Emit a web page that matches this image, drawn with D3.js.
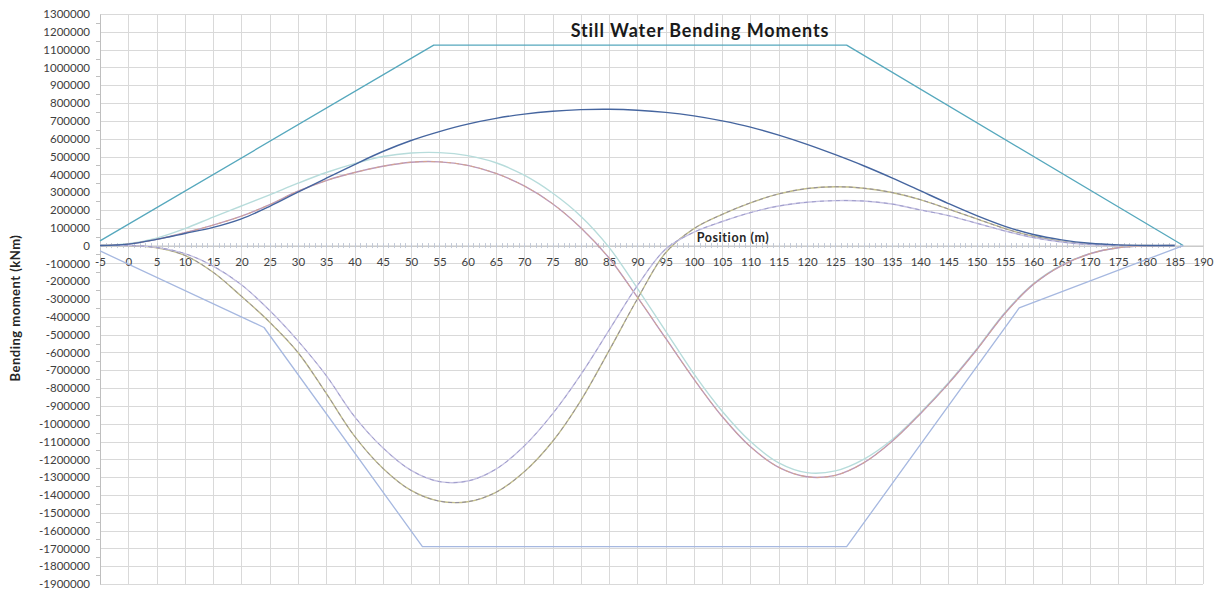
<!DOCTYPE html>
<html>
<head>
<meta charset="utf-8">
<script src="https://cdn.jsdelivr.net/npm/d3@7"></script>
<style>
  html, body { margin: 0; padding: 0; background: #ffffff; }
  svg { display: block; font-family: Lato, "Open Sans", sans-serif; }
</style>
</head>
<body>
<script>
// Stations along the hull (m) for the load-case curves
const positions = [-5, 0, 5, 10, 15, 20, 25, 30, 35, 40, 45, 50, 55, 60, 65, 70, 75, 80, 85, 90,
  95, 100, 105, 110, 115, 120, 125, 130, 135, 140, 145, 150, 155, 160, 165, 170, 175, 180, 185];

// Still water bending moments per load case (kNm)
const caseDeparture = [0, 8000, 35000, 68000, 102000, 150000, 220000, 300000, 378000, 455000, 528000, 590000, 640000, 682000, 714000, 738000, 754000, 763000, 765000, 760000,
  748000, 728000, 700000, 665000, 620000, 568000, 510000, 448000, 380000, 308000, 236000, 168000, 108000, 62000, 32000, 13000, 4000, 500, 0];
const caseBallast = [0, 10000, 42000, 95000, 160000, 222000, 285000, 350000, 410000, 460000, 500000, 520000, 522000, 505000, 465000, 395000, 295000, 165000, -10000, -240000,
  -480000, -720000, -930000, -1100000, -1220000, -1275000, -1265000, -1200000, -1090000, -940000, -770000, -580000, -375000, -215000, -110000, -45000, -12000, -2000, 0];
const caseBallastArrival = [0, 8000, 35000, 72000, 115000, 165000, 230000, 305000, 365000, 410000, 445000, 468000, 470000, 450000, 405000, 335000, 235000, 100000, -70000, -290000,
  -520000, -750000, -960000, -1130000, -1245000, -1298000, -1290000, -1220000, -1100000, -945000, -775000, -585000, -380000, -218000, -112000, -46000, -12000, -2000, 0];
const caseFullLoad = [0, 0, -12000, -55000, -150000, -285000, -430000, -600000, -830000, -1070000, -1250000, -1375000, -1435000, -1438000, -1385000, -1270000, -1100000, -870000, -590000, -300000,
  -40000, 95000, 175000, 240000, 290000, 320000, 330000, 322000, 298000, 258000, 205000, 150000, 95000, 52000, 23000, 8000, 2000, 0, 0];
const caseFullLoadArrival = [0, 0, -10000, -45000, -115000, -220000, -365000, -535000, -730000, -960000, -1135000, -1262000, -1325000, -1322000, -1255000, -1125000, -945000, -725000, -475000, -225000,
  -20000, 75000, 135000, 185000, 222000, 243000, 252000, 250000, 233000, 200000, 168000, 125000, 82000, 45000, 20000, 6000, 1000, 0, 0];

// Permissible still water bending moment envelopes (kNm)
const hoggingLimitX = [-5, 54, 127, 186.5];
const hoggingLimit = [26000, 1125000, 1125000, 0];
const saggingLimitX = [-5, 24, 52, 127, 157.5, 186.5];
const saggingLimit = [-30000, -460000, -1690000, -1690000, -350000, 0];

// Axis ticks
const xTicks = d3.range(-5, 191, 5);
const yTicks = d3.range(-1900000, 1300001, 100000);

const W = 1219, H = 592;
const svg = d3.select("body").append("svg").attr("width", W).attr("height", H);

const x = d3.scaleLinear().domain([-5, 190]).range([100, 1203]);
const y = d3.scaleLinear().domain([-1900000, 1300000]).range([584, 14]);

// Grid
const grid = svg.append("g").attr("stroke", "#d9d9d9").attr("stroke-width", 1);
grid.selectAll("line.h").data(yTicks).join("line")
  .attr("x1", x(-5)).attr("x2", x(190))
  .attr("y1", d => Math.round(y(d)) + 0.5).attr("y2", d => Math.round(y(d)) + 0.5);
grid.selectAll("line.v").data(xTicks).join("line")
  .attr("y1", y(1300000)).attr("y2", y(-1900000))
  .attr("x1", d => Math.round(x(d)) + 0.5).attr("x2", d => Math.round(x(d)) + 0.5);

// Y axis
const yAxis = svg.append("g").attr("transform", `translate(${x(-5)},0)`)
  .call(d3.axisLeft(y).tickValues(yTicks).tickSize(0).tickPadding(10).tickFormat(d => String(d)));
yAxis.select(".domain").attr("stroke", "#bfbfbf");
yAxis.selectAll("text").attr("font-size", 11.5).attr("fill", "#404040").attr("font-family", "Lato, sans-serif");
// minor ticks on y axis
svg.append("g").attr("stroke", "#bfbfbf")
  .selectAll("line").data(d3.range(-1850000, 1300000, 100000)).join("line")
  .attr("x1", x(-5) - 4).attr("x2", x(-5))
  .attr("y1", d => Math.round(y(d)) + 0.5).attr("y2", d => Math.round(y(d)) + 0.5);

// X axis through zero
const x0 = y(0);
const xAxis = svg.append("g").attr("transform", `translate(0,${x0})`)
  .call(d3.axisBottom(x).tickValues(xTicks).tickSize(0).tickPadding(12).tickFormat(d => String(d)));
xAxis.select(".domain").attr("stroke", "#bfbfbf");
xAxis.selectAll("text").attr("font-size", 11.5).attr("fill", "#404040").attr("font-family", "Lato, sans-serif");
// minor ticks on x axis, every metre
svg.append("g").attr("stroke", "#c3cad8")
  .selectAll("line").data(d3.range(-5, 187, 1)).join("line")
  .attr("x1", d => Math.round(x(d)) + 0.5).attr("x2", d => Math.round(x(d)) + 0.5)
  .attr("y1", x0 - 2.5).attr("y2", x0 + 2.5);

// Lines
const lineXY = d3.line().x(d => x(d[0])).y(d => y(d[1]));
const smooth = d3.line().x(d => x(d[0])).y(d => y(d[1])).curve(d3.curveCatmullRom.alpha(0.5));
const plot = svg.append("g").attr("fill", "none").attr("stroke-linejoin", "round");

function envelope(xs, vs, color) {
  plot.append("path").attr("d", lineXY(xs.map((v, i) => [v, vs[i]])))
    .attr("stroke", color).attr("stroke-width", 1.3);
}
function curve(vs, color, width, dash) {
  const p = plot.append("path").attr("d", smooth(positions.map((v, i) => [v, vs[i]])))
    .attr("stroke", color).attr("stroke-width", width);
  if (dash) p.attr("stroke-dasharray", dash);
}

envelope(hoggingLimitX, hoggingLimit, "#56a8bd");
envelope(saggingLimitX, saggingLimit, "#a6b8e0");

curve(caseBallast, "#b7dcdb", 1.4);
curve(caseBallastArrival, "#bb98b8", 1.4);
curve(caseBallastArrival, "#d6a58e", 1.0, "4,4");
curve(caseFullLoad, "#c3bf8a", 1.4);
curve(caseFullLoad, "#908aa0", 1.0, "4,3");
curve(caseFullLoadArrival, "#c6c2e2", 1.4);
curve(caseFullLoadArrival, "#9f9dcc", 1.0, "4,4");
curve(caseDeparture, "#45659f", 1.4);

// Titles
svg.append("text").attr("x", 700).attr("y", 37).attr("text-anchor", "middle")
  .attr("font-size", 18).attr("font-weight", "bold").attr("fill", "#1a1a1a")
  .attr("letter-spacing", 0.9)
  .text("Still Water Bending Moments");
svg.append("text").attr("x", 733).attr("y", 242).attr("text-anchor", "middle")
  .attr("font-size", 12.5).attr("font-weight", "bold").attr("fill", "#262626")
  .attr("letter-spacing", 0.6)
  .text("Position (m)");
svg.append("text").attr("transform", "translate(20,308) rotate(-90)").attr("text-anchor", "middle")
  .attr("font-size", 13).attr("font-weight", "bold").attr("fill", "#262626")
  .attr("letter-spacing", 0.5)
  .text("Bending moment (kNm)");
</script>
</body>
</html>
